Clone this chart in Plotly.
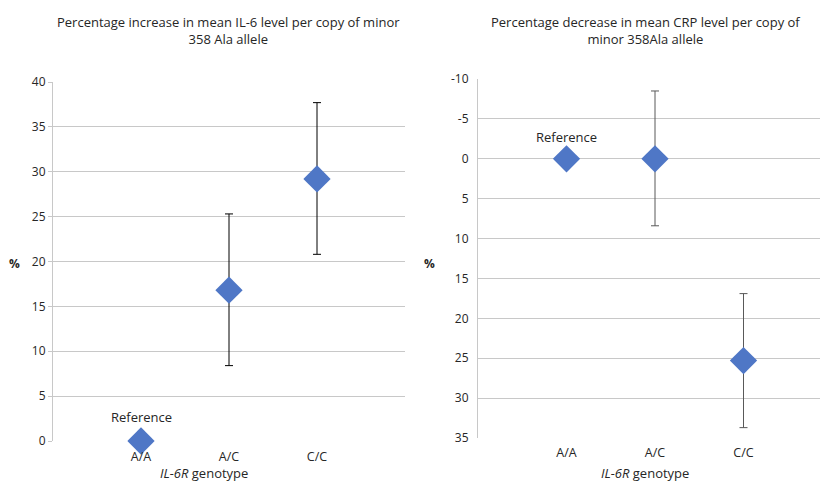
import plotly.graph_objects as go

genotypes = ["A/A", "A/C", "C/C"]
positions = [1, 2, 3]

il6_pct = [0.0, 16.8, 29.2]
il6_lo = [0.0, 8.4, 20.8]
il6_hi = [0.0, 25.3, 37.7]

crp_pct = [0.0, 0.0, 25.3]
crp_lo = [0.0, -8.5, 16.9]
crp_hi = [0.0, 8.4, 33.7]

il6_ticks = [0, 5, 10, 15, 20, 25, 30, 35, 40]
crp_ticks = [-10, -5, 0, 5, 10, 15, 20, 25, 30, 35]
crp_tick_labels = ["-10", "-5", "0", "5", "10", "15", "20", "25", "30", "35"]

W, H = 828, 481
OFF = 8  # page body margin offset
FONT = "Open Sans"
BLUE = "#4F77C6"
GRID = "#C8C8C8"
TXT = "#262626"

def px(x):
    return (x - OFF) / W

def py(y):
    return (H - (y - OFF)) / H

fig = go.Figure()

fig.add_trace(go.Scatter(
    x=positions, y=il6_pct, mode="markers", cliponaxis=False,
    marker=dict(symbol="diamond", size=21, color=BLUE),
    error_y=dict(type="data", symmetric=False,
                 array=[h - v for h, v in zip(il6_hi, il6_pct)],
                 arrayminus=[v - l for l, v in zip(il6_lo, il6_pct)],
                 color="#000000", thickness=1, width=4),
    xaxis="x", yaxis="y", showlegend=False, hoverinfo="skip"))

fig.add_trace(go.Scatter(
    x=positions, y=crp_pct, mode="markers", cliponaxis=False,
    marker=dict(symbol="diamond", size=21, color=BLUE),
    error_y=dict(type="data", symmetric=False,
                 array=[h - v for h, v in zip(crp_hi, crp_pct)],
                 arrayminus=[v - l for l, v in zip(crp_lo, crp_pct)],
                 color="#595959", thickness=1, width=4),
    xaxis="x2", yaxis="y2", showlegend=False, hoverinfo="skip"))

tickfont = dict(family=FONT, size=12, color=TXT)
xtickfont = dict(family=FONT, size=12.5, color=TXT)

fig.update_layout(
    width=W, height=H,
    margin=dict(l=0, r=0, t=0, b=0, autoexpand=False),
    paper_bgcolor="white", plot_bgcolor="white",
    font=dict(family=FONT, color=TXT),
    xaxis=dict(domain=[px(53), px(405)], range=[0, 4], automargin=False,
               tickvals=positions, ticktext=genotypes,
               showgrid=False, zeroline=False, showline=False,
               ticks="", ticklabelstandoff=6, tickfont=xtickfont),
    yaxis=dict(domain=[py(441), py(82)], range=[0, 40], automargin=False,
               tickvals=il6_ticks, showgrid=True, gridcolor=GRID, gridwidth=1,
               zeroline=False, showline=True, linecolor=GRID, linewidth=1,
               ticks="outside", ticklen=4, tickcolor=GRID,
               tickfont=tickfont, anchor="x"),
    xaxis2=dict(domain=[px(478), px(832)], range=[0, 4], automargin=False,
                tickvals=positions, ticktext=genotypes,
                showgrid=False, zeroline=False, showline=False,
                ticks="", ticklabelstandoff=5, tickfont=xtickfont, anchor="y2"),
    yaxis2=dict(domain=[py(438), py(79)], range=[35, -10], automargin=False,
                tickvals=crp_ticks, ticktext=crp_tick_labels,
                showgrid=True, gridcolor=GRID, gridwidth=1,
                zeroline=False, showline=True, linecolor=GRID, linewidth=1,
                ticks="", ticklabelstandoff=6,
                tickfont=tickfont, anchor="x2"),
)

annots = [
    dict(text="Percentage increase in mean IL-6 level per copy of minor<br>358 Ala allele",
         x=px(228), y=py(31), size=13),
    dict(text="Percentage decrease in mean CRP level per copy of<br>minor 358Ala allele",
         x=px(645), y=py(31), size=13),
    dict(text="<i>IL-6R</i> genotype", x=px(204), y=py(473), size=13),
    dict(text="<i>IL-6R</i> genotype", x=px(645), y=py(473), size=13),
    dict(text="<b>%</b>", x=px(15), y=py(263), size=12),
    dict(text="<b>%</b>", x=px(429), y=py(263), size=12),
]
for a in annots:
    fig.add_annotation(xref="paper", yref="paper", showarrow=False,
                       xanchor="center", yanchor="middle",
                       text=a["text"], x=a["x"], y=a["y"],
                       font=dict(family=FONT, color=TXT, size=a["size"]))

fig.add_annotation(xref="x", yref="y", x=1, y=2.7, text="Reference", showarrow=False,
                   font=dict(family=FONT, size=13, color=TXT))
fig.add_annotation(xref="x2", yref="y2", x=1, y=-2.7, text="Reference", showarrow=False,
                   font=dict(family=FONT, size=13, color=TXT))

fig.write_html("out.html")
